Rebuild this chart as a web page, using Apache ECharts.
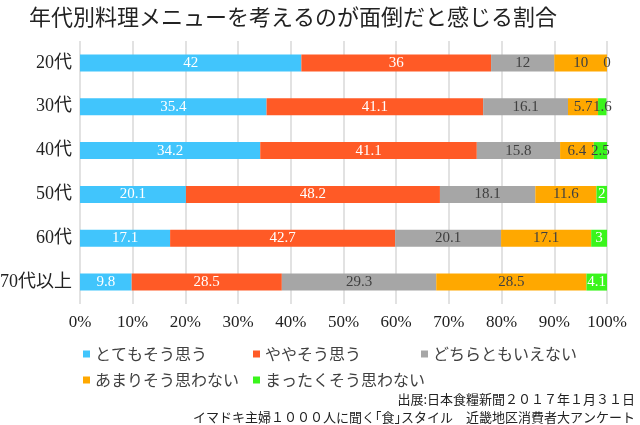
<!DOCTYPE html>
<html><head><meta charset="utf-8">
<script src="https://cdn.jsdelivr.net/npm/echarts@6/dist/echarts.min.js"></script>
<style>html,body{margin:0;padding:0;background:#fff}#c{width:640px;height:425px}</style>
</head><body><div id="c"></div>
<script>
const categories = ['20代','30代','40代','50代','60代','70代以上'];
const seriesNames = ['とてもそう思う','ややそう思う','どちらともいえない','あまりそう思わない','まったくそう思わない'];
const s1 = [42, 35.4, 34.2, 20.1, 17.1, 9.8];
const s2 = [36, 41.1, 41.1, 48.2, 42.7, 28.5];
const s3 = [12, 16.1, 15.8, 18.1, 20.1, 29.3];
const s4 = [10, 5.7, 6.4, 11.6, 17.1, 28.5];
const s5 = [0, 1.6, 2.5, 2, 3, 4.1];
const xTicks = ['0%','10%','20%','30%','40%','50%','60%','70%','80%','90%','100%'];
const sourceLines = ['出展:日本食糧新聞２０１７年１月３１日', 'イマドキ主婦１０００人に聞く｢食｣スタイル　近畿地区消費者大アンケート'];

const values = [s1, s2, s3, s4, s5];
const colors = ['#41C5FC', '#FF5A26', '#A6A6A6', '#FFA800', '#3AF51C'];
const W = '#ffffff', D = '#404040';
const labelColors = [
  [W,W,W,W,W,W],
  [W,W,W,W,W,W],
  [D,D,D,D,D,D],
  [D,D,D,D,D,D],
  [D,D,D,W,W,W]
];
const serif = '"Liberation Serif","DejaVu Serif","Noto Sans CJK JP",serif';
const sans = '"Noto Sans CJK JP","Noto Sans",sans-serif';

const series = values.map((arr, i) => ({
  name: seriesNames[i],
  type: 'bar',
  stack: 'total',
  barWidth: 17,
  itemStyle: { color: colors[i] },
  label: { show: true, position: 'inside', fontFamily: serif, fontSize: 15 },
  data: arr.map((v, j) => ({ value: v, label: { color: labelColors[i][j] } }))
}));

const legendPos = [[78,341],[248,341],[416,341],[78,367],[248,367]];
const legends = seriesNames.map((n, i) => ({
  data: [n], left: legendPos[i][0], top: legendPos[i][1],
  itemWidth: 7, itemHeight: 7, icon: 'rect', itemGap: 4,
  textStyle: { fontFamily: sans, fontSize: 16, color: '#404040' }
}));

const chart = echarts.init(document.getElementById('c'));
chart.setOption({
  animation: false,
  title: { text: '年代別料理メニューを考えるのが面倒だと感じる割合', left: 24, top: 1,
      textStyle: { fontFamily: sans, fontSize: 22, fontWeight: 'normal', color: '#222' } },
  graphic: sourceLines.map((t, i) => ({
    type: 'text', right: 5, top: 393 + i * 18,
    style: { text: t, font: '13px ' + sans, fill: '#222' }
  })),
  legend: legends,
  grid: { left: 80, right: 33, top: 41, bottom: 121, containLabel: false, outerBoundsMode: 'none' },
  xAxis: {
    type: 'value', min: 0, max: 100, interval: 10,
    axisLine: { show: false }, axisTick: { show: false },
    splitLine: { lineStyle: { color: '#D9D9D9', width: 1.5 } },
    axisLabel: { formatter: (v) => xTicks[Math.round(v / 10)], fontFamily: serif, fontSize: 17, color: '#222', margin: 10 }
  },
  yAxis: {
    type: 'category', data: categories, inverse: true,
    axisLine: { show: false }, axisTick: { show: false },
    axisLabel: { fontFamily: serif, fontSize: 18, color: '#222', margin: 8 }
  },
  series
});
</script></body></html>
